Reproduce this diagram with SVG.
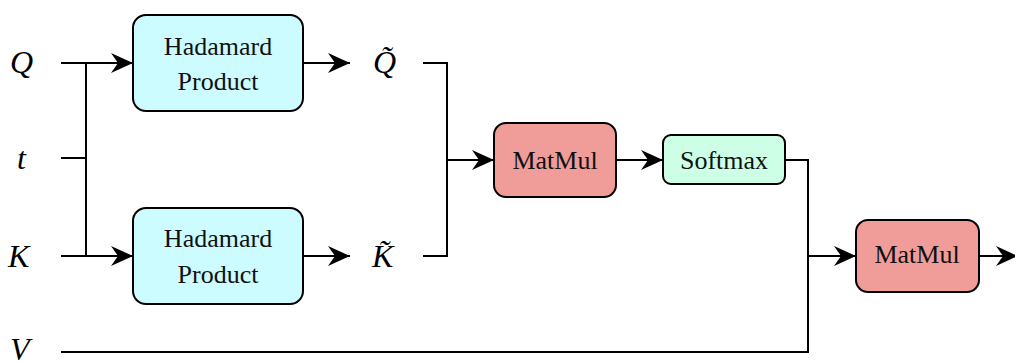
<svg xmlns="http://www.w3.org/2000/svg" width="1015" height="362" viewBox="0 0 1015 362">
<defs>
<marker id="ah" markerUnits="userSpaceOnUse" markerWidth="24" markerHeight="24" viewBox="-23 -12 24 24" refX="0" refY="0" orient="auto">
<path d="M0,0 L-22,-10 L-15,0 L-22,10 Z" fill="#000"/>
</marker>
<style>
.ln{fill:none;stroke:#000;stroke-width:2}
.ar{fill:none;stroke:#000;stroke-width:2;marker-end:url(#ah)}
.box{stroke:#000;stroke-width:2}
.had{fill:#CCFCFF}
.mm{fill:#F09C99}
.sm{fill:#CCFFE5}
.t{font-family:"Liberation Serif","Times New Roman",serif;font-size:26px;text-anchor:middle;fill:#111}
.m{font-family:"Liberation Serif","Times New Roman",serif;font-style:italic;font-size:32px;fill:#000}
</style>
</defs>
<g id="connectors">
<path class="ln" d="M61,63 H86 V256"/>
<path class="ar" d="M86,63 H133"/>
<path class="ln" d="M61,158 H86"/>
<path class="ar" d="M61,256 H133"/>
<path class="ar" d="M303,63 H350"/>
<path class="ar" d="M303,256 H350"/>
<path class="ln" d="M423,63 H447 V256 H423"/>
<path class="ar" d="M447,160 H494"/>
<path class="ar" d="M616,160 H663"/>
<path class="ln" d="M785,160 H808 V352 H61"/>
<path class="ar" d="M808,256 H856"/>
<path class="ar" d="M979,256 H1018"/>
</g>
<g id="Q"><text class="m" x="10" y="73">Q</text></g>
<g id="t"><text class="m" x="17" y="169">t</text></g>
<g id="K"><text class="m" x="8" y="267">K</text></g>
<g id="V"><text class="m" x="10" y="360">V</text></g>
<g id="had1">
<rect class="box had" x="133" y="15" width="170" height="96" rx="13"/>
<text class="t" x="218" y="55">Hadamard</text>
<text class="t" x="218" y="90">Product</text>
</g>
<g id="had2">
<rect class="box had" x="133" y="208" width="170" height="96" rx="13"/>
<text class="t" x="218" y="247">Hadamard</text>
<text class="t" x="218" y="283">Product</text>
</g>
<g id="Qt"><text class="m" x="373" y="73">Q̃</text></g>
<g id="Kt"><text class="m" x="372" y="267">K̃</text></g>
<g id="matmul1">
<rect class="box mm" x="494" y="123" width="122" height="74" rx="12"/>
<text class="t" x="555" y="169">MatMul</text>
</g>
<g id="softmax">
<rect class="box sm" x="663" y="135" width="122" height="49" rx="8"/>
<text class="t" x="724" y="169">Softmax</text>
</g>
<g id="matmul2">
<rect class="box mm" x="856" y="220" width="123" height="72" rx="12"/>
<text class="t" x="917" y="263">MatMul</text>
</g>
</svg>
